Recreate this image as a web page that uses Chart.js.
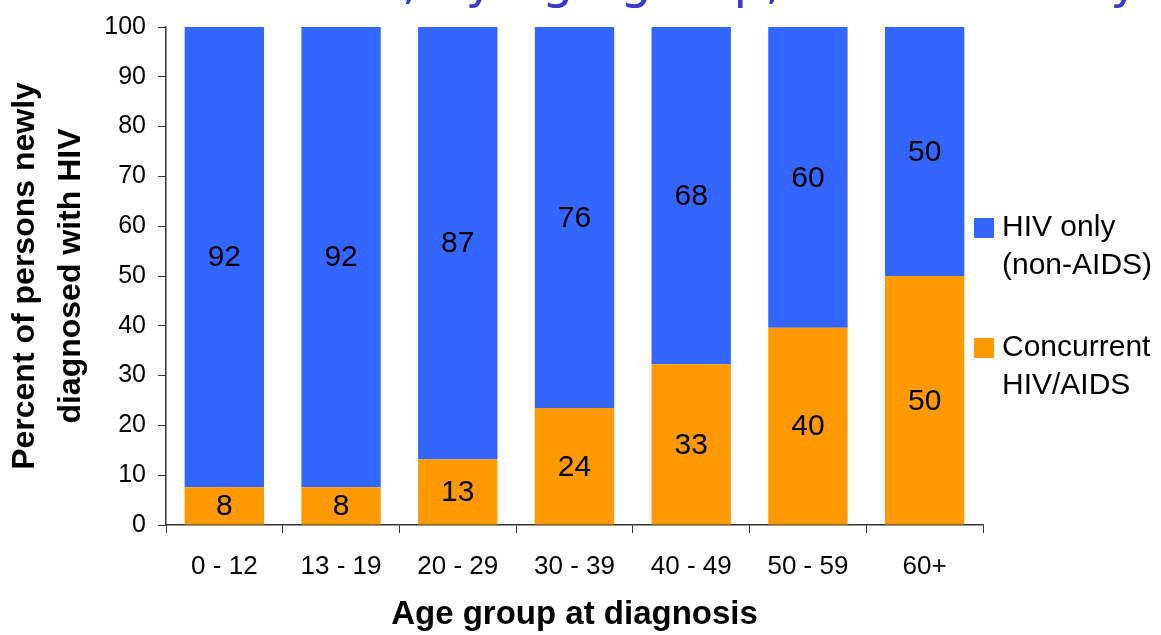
<!DOCTYPE html>
<html>
<head>
<meta charset="utf-8">
<script src="https://cdn.jsdelivr.net/npm/chart.js@4"></script>
<style>
  html, body { margin: 0; padding: 0; background: #fff; }
  #wrap { width: 1161px; height: 635px; }
</style>
</head>
<body>
<div id="wrap"><canvas id="ageChart"></canvas></div>
<script>
// data
var ageGroups = ["0 - 12", "13 - 19", "20 - 29", "30 - 39", "40 - 49", "50 - 59", "60+"];
var concurrent = [7.6, 7.6, 13.2, 23.5, 32.3, 39.6, 50.0];
var hivOnly = [92.4, 92.4, 86.8, 76.5, 67.7, 60.4, 50.0];
var concurrentText = ["8", "8", "13", "24", "33", "40", "50"];
var hivOnlyText = ["92", "92", "87", "76", "68", "60", "50"];
var yTicks = [0, 10, 20, 30, 40, 50, 60, 70, 80, 90, 100];
var titleText = "Concurrent HIV and AIDS, by age group, New York City";

var BLUE = '#3366FF';
var ORANGE = '#FF9900';
var AXIS = '#333333';

// numbers in the middle of each bar piece
var segmentLabels = {
    id: 'segmentLabels',
    afterDatasetsDraw: function(chart) {
        var ctx = chart.ctx;
        ctx.save();
        ctx.font = '30px "Liberation Sans", Arial, sans-serif';
        ctx.fillStyle = '#000';
        ctx.textAlign = 'center';
        ctx.textBaseline = 'middle';
        chart.data.datasets.forEach(function(ds, i) {
            chart.getDatasetMeta(i).data.forEach(function(bar, j) {
                ctx.fillText(ds.valueText[j], bar.x, (bar.y + bar.base) / 2 + 1);
            });
        });
        ctx.restore();
    }
};

// two-line legend on the right
var sideLegend = {
    id: 'sideLegend',
    afterDraw: function(chart) {
        var ctx = chart.ctx;
        var items = chart.data.datasets.slice().reverse();
        ctx.save();
        ctx.font = '30px "Liberation Sans", Arial, sans-serif';
        ctx.textAlign = 'left';
        ctx.textBaseline = 'middle';
        items.forEach(function(ds, k) {
            var y = 228 + k * 120;
            ctx.fillStyle = ds.backgroundColor;
            ctx.fillRect(974, y - 10, 20, 20);
            ctx.fillStyle = '#000';
            ds.legendLines.forEach(function(line, n) {
                ctx.fillText(line, 1002, y + n * 38);
            });
        });
        ctx.restore();
    }
};

// slide title, mostly cut off at the top
var cutTitle = {
    id: 'cutTitle',
    afterDraw: function(chart) {
        var ctx = chart.ctx;
        ctx.save();
        ctx.font = '50px "DejaVu Sans", sans-serif';
        ctx.fillStyle = '#3a3acc';
        ctx.textAlign = 'left';
        ctx.textBaseline = 'alphabetic';
        var prefix = titleText.split(',')[0];
        ctx.fillText(titleText, 402 - ctx.measureText(prefix).width, -2);
        ctx.restore();
    }
};

var ctx = document.getElementById('ageChart').getContext('2d');
var ageChart = new Chart(ctx, {
    type: 'bar',
    data: {
        labels: ageGroups,
        datasets: [{
            label: 'Concurrent HIV/AIDS',
            legendLines: ['Concurrent', 'HIV/AIDS'],
            data: concurrent,
            valueText: concurrentText,
            backgroundColor: ORANGE,
            categoryPercentage: 1,
            barPercentage: 0.68
        }, {
            label: 'HIV only (non-AIDS)',
            legendLines: ['HIV only', '(non-AIDS)'],
            data: hivOnly,
            valueText: hivOnlyText,
            backgroundColor: BLUE,
            categoryPercentage: 1,
            barPercentage: 0.68
        }]
    },
    options: {
        responsive: true,
        maintainAspectRatio: false,
        animation: false,
        layout: { padding: { top: 23, right: 178, left: 0, bottom: 0 } },
        scales: {
            x: {
                stacked: true,
                afterFit: function(s) { s.height = 110; },
                grid: {
                    offset: true,
                    drawOnChartArea: false,
                    drawTicks: true,
                    tickLength: 8,
                    color: AXIS
                },
                border: { display: true, color: AXIS, width: 1.5 },
                ticks: {
                    color: '#000',
                    padding: 18,
                    maxRotation: 0,
                    font: { family: '"Liberation Sans", Arial, sans-serif', size: 26 }
                },
                title: {
                    display: true,
                    text: 'Age group at diagnosis',
                    color: '#000',
                    padding: { top: 0, bottom: 0 },
                    font: { family: '"Liberation Sans", Arial, sans-serif', size: 33, weight: 'bold' }
                }
            },
            y: {
                stacked: true,
                min: 0,
                max: 100,
                afterFit: function(s) { s.width = 166; },
                afterBuildTicks: function(s) {
                    s.ticks = yTicks.map(function(v) { return { value: v }; });
                },
                grid: {
                    drawOnChartArea: false,
                    drawTicks: true,
                    tickLength: 8,
                    color: AXIS
                },
                border: { display: true, color: AXIS, width: 1.5 },
                ticks: {
                    color: '#000',
                    padding: 12,
                    font: { family: '"Liberation Sans", Arial, sans-serif', size: 25 }
                },
                title: {
                    display: true,
                    text: ['Percent of persons newly', 'diagnosed with HIV'],
                    color: '#000',
                    padding: { top: 2, bottom: 0 },
                    font: { family: '"Liberation Sans", Arial, sans-serif', size: 32, weight: 'bold', lineHeight: 1.45 }
                }
            }
        },
        plugins: {
            legend: { display: false },
            tooltip: { enabled: false }
        }
    },
    plugins: [segmentLabels, sideLegend, cutTitle]
});
</script>
</body>
</html>
